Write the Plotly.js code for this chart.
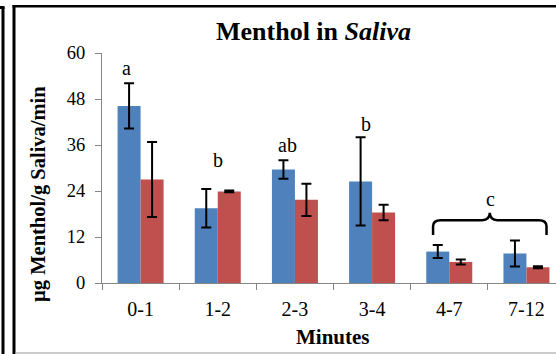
<!DOCTYPE html>
<html>
<head>
<meta charset="utf-8">
<script src="https://cdn.plot.ly/plotly-3.0.1.min.js"></script>
<style>
  html, body { margin: 0; padding: 0; background: #ffffff; }
  #chart { width: 556px; height: 354px; }
</style>
</head>
<body>
<div id="chart"></div>
<script>
// Sampling intervals (minutes)
const categories = ['0-1', '1-2', '2-3', '3-4', '4-7', '7-12'];

// Menthol concentration (µg menthol / g saliva / min), two groups
const groupA = [46.2, 19.5, 29.6, 26.5, 8.2, 7.7];
const groupAErr = [5.9, 5.0, 2.4, 11.5, 1.7, 3.4];
const groupB = [27.0, 23.9, 21.7, 18.4, 5.5, 4.1];
const groupBErr = [9.8, 0.2, 4.2, 2.0, 0.65, 0.25];

// Significance letters and where they sit (category index, value)
const letterText = ['a', 'b', 'ab', 'b', 'c'];
const letterX = [-0.18, 1.0, 1.91, 2.92, 4.53];
const letterY = [56.1, 32.1, 36.0, 41.5, 21.9];

// Brace grouping the last two intervals (category index / value units)
const braceLeft = 3.79, braceRight = 5.26, braceEnd = 12.5, braceBar = 16.4, braceTip = 18.3;

const serif = '"Times New Roman", "Liberation Serif", serif';
const axisGrey = '#868686';

// pixel geometry of the plot area
const W = 556, H = 354;
const M = { l: 102, r: 0, t: 53, b: 71 };
const plotW = W - M.l - M.r, plotH = H - M.t - M.b;
const px = x => (x - M.l) / plotW;          // page x -> paper x
const py = y => (H - M.b - y) / plotH;      // page y -> paper y

const errStyle = { type: 'data', visible: true, color: '#000000', thickness: 2, width: 5 };

const traces = [
  {
    type: 'bar', name: 'Group A', x: categories, y: groupA,
    marker: { color: '#4F81BD' },
    error_y: Object.assign({ array: groupAErr }, errStyle),
    hoverinfo: 'skip'
  },
  {
    type: 'bar', name: 'Group B', x: categories, y: groupB,
    marker: { color: '#C0504D' },
    error_y: Object.assign({ array: groupBErr }, errStyle),
    hoverinfo: 'skip'
  }
];

const c = braceLeft, d = braceRight, m = (braceLeft + braceRight) / 2, r = 0.1;
const bracePath =
  `M ${c},${braceEnd} L ${c},${braceBar - 1.6} Q ${c},${braceBar} ${c + r},${braceBar} ` +
  `L ${m - r},${braceBar} Q ${m},${braceBar} ${m},${braceTip} ` +
  `Q ${m},${braceBar} ${m + r},${braceBar} L ${d - r},${braceBar} ` +
  `Q ${d},${braceBar} ${d},${braceBar - 1.6} L ${d},${braceEnd}`;

const annotations = letterText.map((t, i) => ({
  x: letterX[i], y: letterY[i], xref: 'x', yref: 'y',
  text: t, showarrow: false, xanchor: 'center', yanchor: 'middle',
  font: { family: serif, size: 20, color: '#000000' }
}));

annotations.push({
  x: px(38), y: py(194), xref: 'paper', yref: 'paper',
  text: '<b>µg Menthol/g Saliva/min</b>', textangle: -90, showarrow: false,
  xanchor: 'center', yanchor: 'middle',
  font: { family: serif, size: 20.5, color: '#000000' }
});
annotations.push({
  x: px(333), y: py(337), xref: 'paper', yref: 'paper',
  text: '<b>Minutes</b>', showarrow: false, xanchor: 'center', yanchor: 'middle',
  font: { family: serif, size: 21, color: '#000000' }
});

const shapes = [
  { type: 'path', xref: 'x', yref: 'y', path: bracePath, line: { color: '#000000', width: 2.5 } },
  // frame edges
  { type: 'line', xref: 'paper', yref: 'paper', x0: px(3), x1: px(3), y0: py(7), y1: py(356), line: { color: '#000000', width: 3 } },
  { type: 'line', xref: 'paper', yref: 'paper', x0: px(-2), x1: px(4.5), y0: py(7.5), y1: py(7.5), line: { color: '#000000', width: 3 } },
  { type: 'line', xref: 'paper', yref: 'paper', x0: px(14), x1: px(14), y0: py(5), y1: py(356), line: { color: '#000000', width: 3 } },
  { type: 'line', xref: 'paper', yref: 'paper', x0: px(12.5), x1: px(558), y0: py(6.2), y1: py(6.2), line: { color: '#000000', width: 2.5 } },
  { type: 'line', xref: 'paper', yref: 'paper', x0: px(15), x1: px(558), y0: py(353), y1: py(353), line: { color: '#9a9a9a', width: 1 } }
];

const layout = {
  width: W, height: H,
  margin: M,
  paper_bgcolor: '#ffffff', plot_bgcolor: '#ffffff',
  showlegend: false,
  barmode: 'group', bargap: 0.404, bargroupgap: 0,
  title: {
    text: '<b>Menthol in <i>Saliva</i></b>',
    font: { family: serif, size: 26, color: '#000000' },
    xref: 'container', yref: 'container',
    x: 313.5 / W, xanchor: 'center',
    y: 1 - 31 / H, yanchor: 'middle'
  },
  xaxis: {
    type: 'category', range: [-0.5, 5.383],
    tickson: 'boundaries', ticks: 'outside', ticklen: 6, tickcolor: axisGrey, tickwidth: 1,
    ticklabelstandoff: 8,
    showline: true, linecolor: axisGrey, linewidth: 1,
    showgrid: false, zeroline: false, fixedrange: true,
    tickfont: { family: serif, size: 20, color: '#000000' }
  },
  yaxis: {
    range: [0, 60], dtick: 12, tick0: 0,
    ticks: 'outside', ticklen: 6, tickcolor: axisGrey, tickwidth: 1,
    ticklabelstandoff: 6,
    showline: true, linecolor: axisGrey, linewidth: 1,
    showgrid: false, zeroline: false, fixedrange: true,
    tickfont: { family: serif, size: 18.5, color: '#000000' }
  },
  annotations: annotations,
  shapes: shapes
};

Plotly.newPlot('chart', traces, layout, { displayModeBar: false, staticPlot: true });
</script>
</body>
</html>
